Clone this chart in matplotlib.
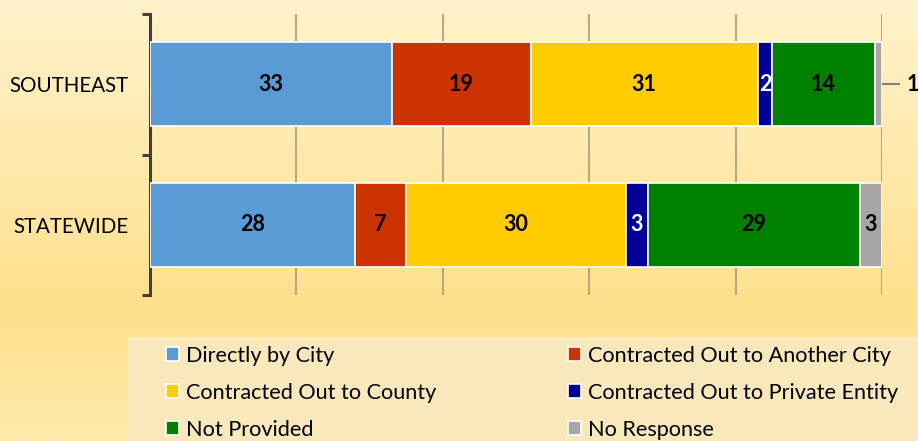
import matplotlib
matplotlib.use("Agg")
import matplotlib.pyplot as plt
from matplotlib.patches import Patch, Rectangle
from matplotlib.colors import LinearSegmentedColormap
import numpy as np

plt.rcParams['font.family'] = ['Lato', 'DejaVu Sans']

regions = ['STATEWIDE', 'SOUTHEAST']
categories = ['Directly by City', 'Contracted Out to Another City',
              'Contracted Out to County', 'Contracted Out to Private Entity',
              'Not Provided', 'No Response']
statewide = [28, 7, 30, 3, 29, 3]
southeast = [33, 19, 31, 2, 14, 1]
colors = ['#5b9bd5', '#cc3300', '#ffcc00', '#000099', '#008000', '#a6a6a6']
label_colors = ['black', 'black', 'black', 'white', 'black', 'black']

W, H = 918, 441
fig = plt.figure(figsize=(W / 100, H / 100), dpi=100)

# background gradient
bg = fig.add_axes([0, 0, 1, 1], zorder=-10)
cmap = LinearSegmentedColormap.from_list(
    'bg', [(0, '#fff3cd'), (0.7, '#ffe08c'), (1.0, '#ffe9aa')])
grad = np.linspace(0, 1, 256).reshape(-1, 1)
bg.imshow(grad, aspect='auto', cmap=cmap, extent=[0, 1, 0, 1])
bg.axis('off')

# legend background box
fig.patches.append(Rectangle((128 / W, 0), 1 - 128 / W, (H - 337) / H,
                             transform=fig.transFigure, facecolor='#f9e8bb',
                             edgecolor='none', zorder=-5))

ax = fig.add_axes([150 / W, (H - 295) / H, (882 - 150) / W, (295 - 14) / H])
ax.set_facecolor('none')

data = [statewide, southeast]
ypos = np.arange(len(regions))
bar_h = 0.6
for i, vals in enumerate(data):
    left = 0
    for j, v in enumerate(vals):
        ax.barh(ypos[i], v, left=left, height=bar_h, color=colors[j],
                edgecolor='white', linewidth=1.2, zorder=3)
        cx = left + v / 2
        if v >= 2:
            ax.text(cx, ypos[i], str(v), ha='center', va='center',
                    fontsize=15.5, fontweight='bold', color=label_colors[j],
                    zorder=4)
        else:
            ax.plot([left + v + 0.2, left + v + 2.3], [ypos[i], ypos[i]],
                    color='#808080', lw=1.5, zorder=4, clip_on=False)
            ax.text(left + v + 3.3, ypos[i], str(v), ha='left', va='center',
                    fontsize=15.5, fontweight='bold', color='black', zorder=4)
        left += v

ax.set_xlim(0, 100)
ax.set_ylim(-0.5, 1.5)
ax.set_xticks([20, 40, 60, 80, 100])
ax.tick_params(axis='x', length=0, labelbottom=False)
ax.grid(axis='x', color='#b8aa80', linewidth=1.5, zorder=0)

ax.set_yticks([-0.5, 0.5, 1.5])
ax.set_yticklabels([])
ax.tick_params(axis='y', which='major', length=6, width=2.2, color='#404040',
               direction='out')
ax.set_yticks(ypos, minor=True)
ax.set_yticklabels(regions, minor=True, fontsize=14.8)
ax.tick_params(axis='y', which='minor', length=0, pad=15.5)

for s in ['top', 'right', 'bottom']:
    ax.spines[s].set_visible(False)
ax.spines['left'].set_linewidth(2.2)
ax.spines['left'].set_color('#404040')

handles = [Patch(facecolor=c, edgecolor='white', linewidth=1.2) for c in colors]
common = dict(frameon=False, fontsize=15.6, handlelength=0.6, handleheight=0.6,
              handletextpad=0.3, labelspacing=0.78, borderpad=0,
              borderaxespad=0, loc='upper left')
fig.legend([handles[k] for k in (0, 2, 4)], [categories[k] for k in (0, 2, 4)],
           bbox_to_anchor=(166 / W, 1 - 346 / H), **common)
fig.legend([handles[k] for k in (1, 3, 5)], [categories[k] for k in (1, 3, 5)],
           bbox_to_anchor=(568 / W, 1 - 346 / H), **common)

fig.savefig('out.png', dpi=100)
